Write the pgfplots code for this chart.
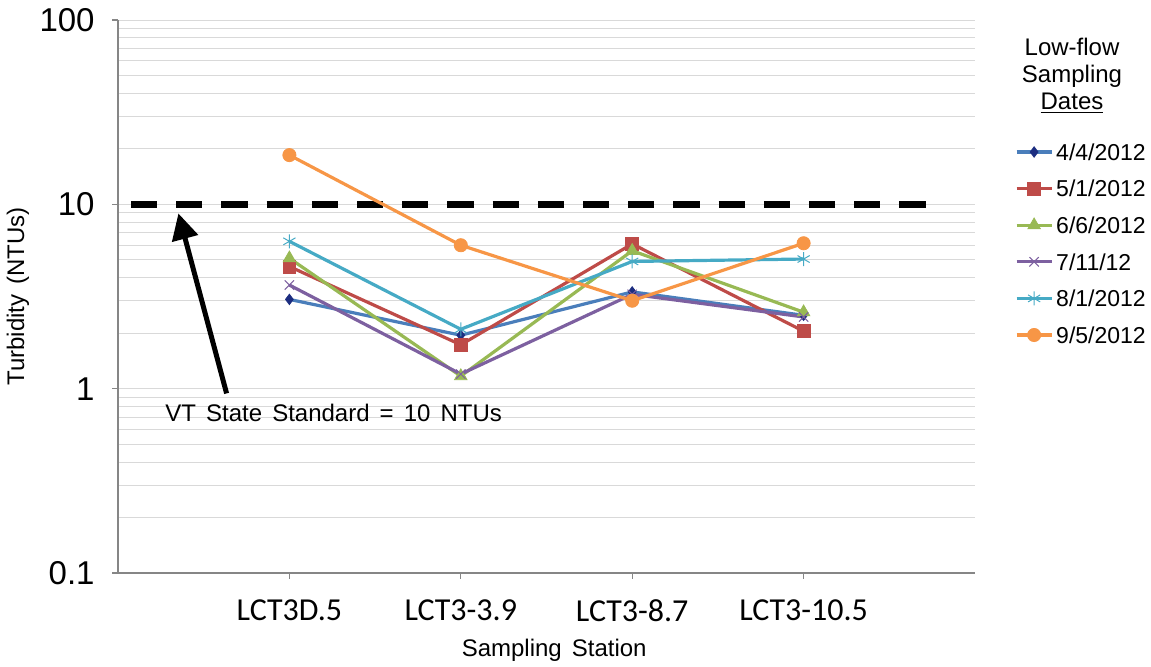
\documentclass[border=0pt]{standalone}
\usepackage{pgfplots}
\pgfplotsset{compat=1.18}
\usepackage{pgfplotstable}
\usepackage{fontspec}
\setmainfont{Liberation Sans}
\newfontfamily\calibri{Carlito}
\usetikzlibrary{arrows.meta}

\definecolor{s1line}{HTML}{4A7EBB}
\definecolor{s1mark}{HTML}{1C2D80}
\definecolor{s2col}{HTML}{BE4B48}
\definecolor{s3col}{HTML}{98B954}
\definecolor{s4col}{HTML}{7D60A0}
\definecolor{s5col}{HTML}{46AAC5}
\definecolor{s6col}{HTML}{F79646}
\definecolor{gridgray}{HTML}{D9D9D9}
\definecolor{axisgray}{HTML}{868686}

\newcommand{\wsp}{\hspace{0.42em}}

% Turbidity (NTU) at each station (0..3) for each low-flow sampling date
\pgfplotstableread{
x   d0404 d0501 d0606 d0711 d0801 d0905
0   3.05  4.6   5.1   3.65  6.3   18.5
1   1.95  1.73  1.17  1.2   2.1   6.0
2   3.35  6.1   5.6   3.25  4.9   3.0
3   2.5   2.05  2.6   2.45  5.05  6.15
}\turbidity

\begin{document}
\begin{tikzpicture}
\path[use as bounding box] (0,0) rectangle (575.5pt,333pt);
\begin{axis}[
  at={(59pt,46.5pt)}, anchor=south west,
  scale only axis, width=428.5pt, height=276.5pt,
  xmin=-1, xmax=4,
  ymode=log, ymin=0.1, ymax=100,
  xtick={0,1,2,3},
  xticklabels={LCT3D.5,LCT3-3.9,LCT3-8.7,LCT3-10.5},
  ytick={0.1,1,10,100},
  yticklabels={0.1,1,10,100},
  axis x line=bottom, axis y line=left,
  axis line style={-, draw=axisgray, line width=0.6pt},
  tick align=outside,
  major tick length=3pt, minor tick length=0pt,
  tick style={draw=axisgray, line width=0.6pt},
  ymajorgrids, yminorgrids,
  major grid style={draw=gridgray, line width=0.5pt},
  minor grid style={draw=gridgray, line width=0.5pt},
  xticklabel style={font=\calibri\fontsize{16}{18}\selectfont, inner sep=0pt, anchor=north, yshift=-10.2pt},
  yticklabel style={font=\fontsize{16.5}{18}\selectfont, inner sep=0pt, anchor=east, xshift=-8.5pt},
  xlabel={Sampling\wsp Station},
  ylabel={Turbidity\wsp (NTUs)},
  xlabel style={font=\fontsize{12}{14}\selectfont, at={(axis description cs:0.509,0)}, anchor=center, yshift=-38.5pt},
  ylabel style={font=\fontsize{12}{14}\selectfont, at={(axis description cs:-0.1167,0.5)}, anchor=center},
  legend style={draw=none, fill=none, at={(axis description cs:1.0467,0.7763)}, anchor=north west,
    inner sep=0pt, outer sep=0pt, row sep=10pt,
    font=\fontsize{11.5}{13}\selectfont,
    nodes={inner sep=0pt, text height=8.3pt, text depth=0pt},
    /tikz/every odd column/.append style={column sep=1.5pt}},
  legend cell align=left,
  legend image code/.code={\draw[mark repeat=2,mark phase=2,#1] plot coordinates {(0pt,0pt) (8.75pt,0pt) (17.5pt,0pt)};},
  every axis plot/.append style={line width=1.6pt},
]
% water-quality standard (10 NTU)
\addplot[forget plot, black, line width=3.3pt, dash pattern=on 13.1pt off 9.5pt, dash phase=16.1pt, mark=none]
  coordinates {(-1,10) (3.74,10)};

\addplot[s1line, mark=diamond*, mark size=2.6pt, mark options={solid, fill=s1mark, draw=s1mark, line width=0.4pt}]
  table[x=x, y=d0404] {\turbidity};
\addlegendentry{4/4/2012}
\addplot[s2col, mark=square*, mark size=3.2pt, mark options={solid, fill=s2col, draw=s2col, line width=0.4pt}]
  table[x=x, y=d0501] {\turbidity};
\addlegendentry{5/1/2012}
\addplot[s3col, mark=triangle*, mark size=3.6pt, mark options={solid, fill=s3col, draw=s3col, line width=0.4pt}]
  table[x=x, y=d0606] {\turbidity};
\addlegendentry{6/6/2012}
\addplot[s4col, mark=x, mark size=3.3pt, mark options={solid, draw=s4col, line width=0.5pt}]
  table[x=x, y=d0711] {\turbidity};
\addlegendentry{7/11/12}
\addplot[s5col, mark=asterisk, mark size=3.5pt, mark options={solid, draw=s5col, line width=0.5pt}]
  table[x=x, y=d0801] {\turbidity};
\addlegendentry{8/1/2012}
\addplot[s6col, mark=*, mark size=3.3pt, mark options={solid, fill=s6col, draw=s6col, line width=0.4pt}]
  table[x=x, y=d0905] {\turbidity};
\addlegendentry{9/5/2012}
\end{axis}

% legend heading
\node[align=center, font=\fontsize{12}{13.5}\selectfont, anchor=center] at (536pt,295pt)
  {Low-flow\\Sampling\\\underline{Dates}};

% annotation for the standard
\draw[line width=2.5pt, -{Triangle[length=13pt,width=13pt]}] (113.3pt,136.3pt) -- (89.2pt,226.3pt);
\node[anchor=west, inner sep=0pt, font=\fontsize{12}{14}\selectfont] at (82.5pt,126.5pt)
  {VT\wsp State\wsp Standard\wsp =\wsp 10\wsp NTUs};
\end{tikzpicture}
\end{document}
